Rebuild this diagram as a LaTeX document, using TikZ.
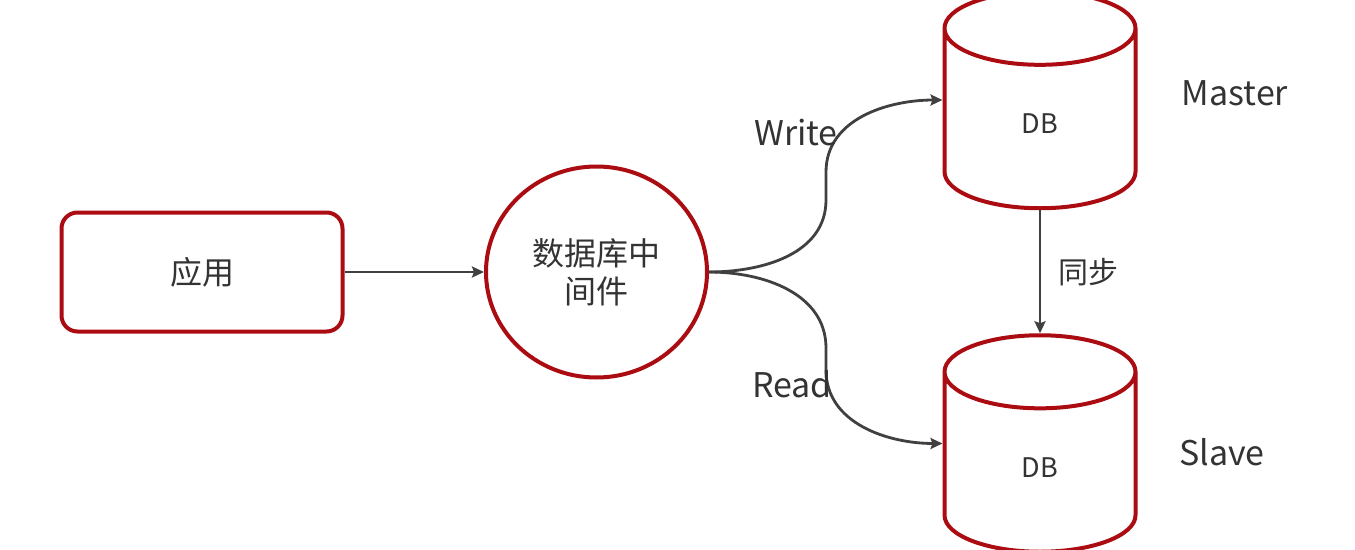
\documentclass[tikz,border=0pt]{standalone}
\usepackage{fontspec}
\setmainfont{Noto Sans CJK SC}
\usetikzlibrary{shapes.geometric, arrows.meta, positioning}
\definecolor{dbred}{RGB}{170,12,18}
\definecolor{linegray}{RGB}{64,64,64}
\definecolor{txtgray}{RGB}{51,51,51}

\begin{document}
\begin{tikzpicture}[
  x=1pt, y=-1pt,
  font=\fontsize{32}{38}\selectfont,
  text=txtgray,
  box/.style={draw=dbred, line width=4pt, rounded corners=16pt, minimum width=281pt, minimum height=119pt},
  hub/.style={ellipse, draw=dbred, line width=4pt, minimum width=221pt, minimum height=211pt, align=center, inner sep=0pt},
  db/.style={cylinder, shape border rotate=90, draw=dbred, line width=4pt, aspect=1.7, minimum width=191pt, minimum height=216.5pt, font=\fontsize{27}{30}\selectfont},
  lbl/.style={font=\fontsize{34}{38}\selectfont},
  flow/.style={-{Stealth[length=12pt,width=11pt,inset=2pt]}, line width=2.8pt, draw=linegray}
]
\useasboundingbox (0,0) rectangle (1355,549);
\node[box] (app) at (202,272) {应用};
\node[hub, right=139.5pt of app] (mw) {数据库中\\间件};
\node[db, anchor=shape center] (master) at (1040,100) {DB};
\node[db, below=123pt of master] (slave) {DB};
\node[lbl] (masterlbl) at (1235,93) {Master};
\node[lbl] (slavelbl) at (1222,452) {Slave};

\coordinate (wlow) at (826,200);
\coordinate (whigh) at (826,172);
\coordinate (rhigh) at (826,348);
\coordinate (rlow) at (826,370);

\draw[flow] (app) -- (mw);
\draw[flow] (mw.east) to[out=0, in=-90] (wlow) -- (whigh) to[out=90, in=180] (master.shape center -| master.west);
\draw[flow] (mw.east) to[out=0, in=90] (rhigh) -- (rlow) to[out=-90, in=180] (slave.shape center -| slave.west);
\draw[flow] (master.south) -- (slave.north) node[midway, right=14pt, font=\fontsize{30}{34}\selectfont] (sync) {同步};
\node[lbl] (write) at (796,133) {Write};
\node[lbl] (read) at (792,384) {Read};
\end{tikzpicture}
\end{document}
